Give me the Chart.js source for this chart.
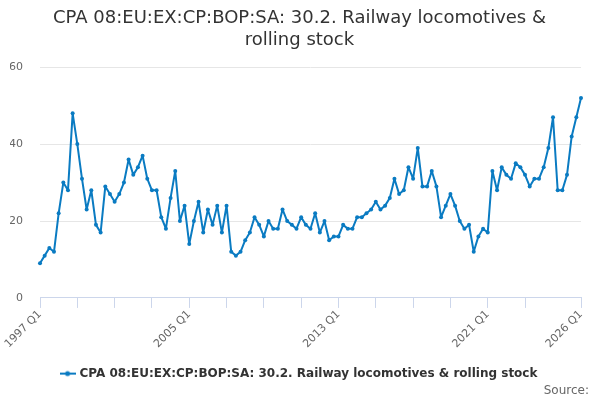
<!DOCTYPE html>
<html>
<head>
<meta charset="utf-8">
<script src="https://cdn.jsdelivr.net/npm/chart.js@4.4.1/dist/chart.umd.min.js"></script>
<style>
  html, body { margin: 0; padding: 0; background: #fff; }
  #wrap { width: 600px; height: 400px; }
</style>
</head>
<body>
<div id="wrap"><canvas id="chart"></canvas></div>
<script>
// quarterly periods 1997 Q1 .. 2026 Q1
const years = [];
for (let y = 1997; y <= 2026; y++) years.push(y);
const quarters = ['Q1', 'Q2', 'Q3', 'Q4'];
const periods = [];
years.forEach(function(y) {
  quarters.forEach(function(q) {
    if (y < 2026 || q === 'Q1') periods.push(y + ' ' + q);
  });
});

const values = [
  9, 11, 13, 12, 22, 30, 28, 48, 40, 31, 23, 28, 19, 17, 29, 27,
  25, 27, 30, 36, 32, 34, 37, 31, 28, 28, 21, 18, 26, 33, 20, 24,
  14, 20, 25, 17, 23, 19, 24, 17, 24, 12, 11, 12, 15, 17, 21, 19,
  16, 20, 18, 18, 23, 20, 19, 18, 21, 19, 18, 22, 17, 20, 15, 16,
  16, 19, 18, 18, 21, 21, 22, 23, 25, 23, 24, 26, 31, 27, 28, 34,
  31, 39, 29, 29, 33, 29, 21, 24, 27, 24, 20, 18, 19, 12, 16, 18,
  17, 33, 28, 34, 32, 31, 35, 34, 32, 29, 31, 31, 34, 39, 47, 28,
  28, 32, 42, 47, 52
];

const labelledPeriods = ['1997 Q1', '2005 Q1', '2013 Q1', '2021 Q1', '2026 Q1'];
const yTicks = [0, 20, 40, 60];

const seriesName = 'CPA 08:EU:EX:CP:BOP:SA: 30.2. Railway locomotives & rolling stock';
const lineColor = '#0a7bc2';

// legend symbol: short line with a dot
const legendIcon = document.createElement('canvas');
legendIcon.width = 16;
legendIcon.height = 8;
const lctx = legendIcon.getContext('2d');
lctx.strokeStyle = lineColor;
lctx.lineWidth = 2;
lctx.beginPath();
lctx.moveTo(0, 4);
lctx.lineTo(16, 4);
lctx.stroke();
lctx.fillStyle = lineColor;
lctx.beginPath();
lctx.arc(8, 4, 2.5, 0, Math.PI * 2);
lctx.fill();

Chart.defaults.font.family = '"DejaVu Sans", sans-serif';

const ctx = document.getElementById('chart').getContext('2d');
const chart = new Chart(ctx, {
  type: 'line',
  data: {
    labels: periods,
    datasets: [{
      label: seriesName,
      data: values,
      borderColor: lineColor,
      backgroundColor: lineColor,
      borderWidth: 2,
      borderJoinStyle: 'round',
      pointRadius: 2,
      pointBorderWidth: 0,
      pointHoverRadius: 3,
      tension: 0,
      fill: false
    }]
  },
  options: {
    responsive: true,
    maintainAspectRatio: false,
    animation: false,
    layout: { padding: { left: 10, right: 11, top: 4, bottom: 2 } },
    scales: {
      x: {
        grid: {
          drawOnChartArea: false,
          drawTicks: true,
          tickLength: 10,
          color: '#ccd6eb'
        },
        border: { color: '#ccd6eb' },
        afterFit: function(scale) {
          scale.paddingRight = 19;
          scale.height += 5;
        },
        ticks: {
          autoSkip: false,
          maxRotation: 45,
          minRotation: 45,
          color: '#666666',
          font: { size: 11 },
          padding: 0,
          callback: function(value, index) {
            const lbl = periods[index];
            if (labelledPeriods.includes(lbl)) return lbl;
            if (index % 8 === 0 && index <= 104) return '';
            return null;
          }
        }
      },
      y: {
        min: yTicks[0],
        max: yTicks[yTicks.length - 1],
        grid: { color: '#e6e6e6', drawTicks: false },
        border: { display: false },
        afterBuildTicks: function(axis) {
          axis.ticks = yTicks.map(function(v) { return { value: v }; });
        },
        afterFit: function(axis) {
          axis.width = 30;
        },
        ticks: {
          color: '#666666',
          font: { size: 11 },
          padding: 17
        }
      }
    },
    plugins: {
      title: {
        display: true,
        text: ['CPA 08:EU:EX:CP:BOP:SA: 30.2. Railway locomotives &', 'rolling stock'],
        color: '#333333',
        font: { size: 18, weight: 'normal' },
        lineHeight: 1.2,
        padding: { top: 4, bottom: 16 }
      },
      subtitle: {
        display: true,
        text: 'Source:',
        position: 'bottom',
        align: 'end',
        color: '#666666',
        font: { size: 12, weight: 'normal' },
        padding: { top: -6, bottom: 0 }
      },
      legend: {
        position: 'bottom',
        labels: {
          usePointStyle: true,
          pointStyle: legendIcon,
          color: '#333333',
          font: { size: 12, weight: 'bold' },
          padding: 12
        }
      },
      tooltip: { enabled: false }
    }
  }
});
</script>
</body>
</html>
